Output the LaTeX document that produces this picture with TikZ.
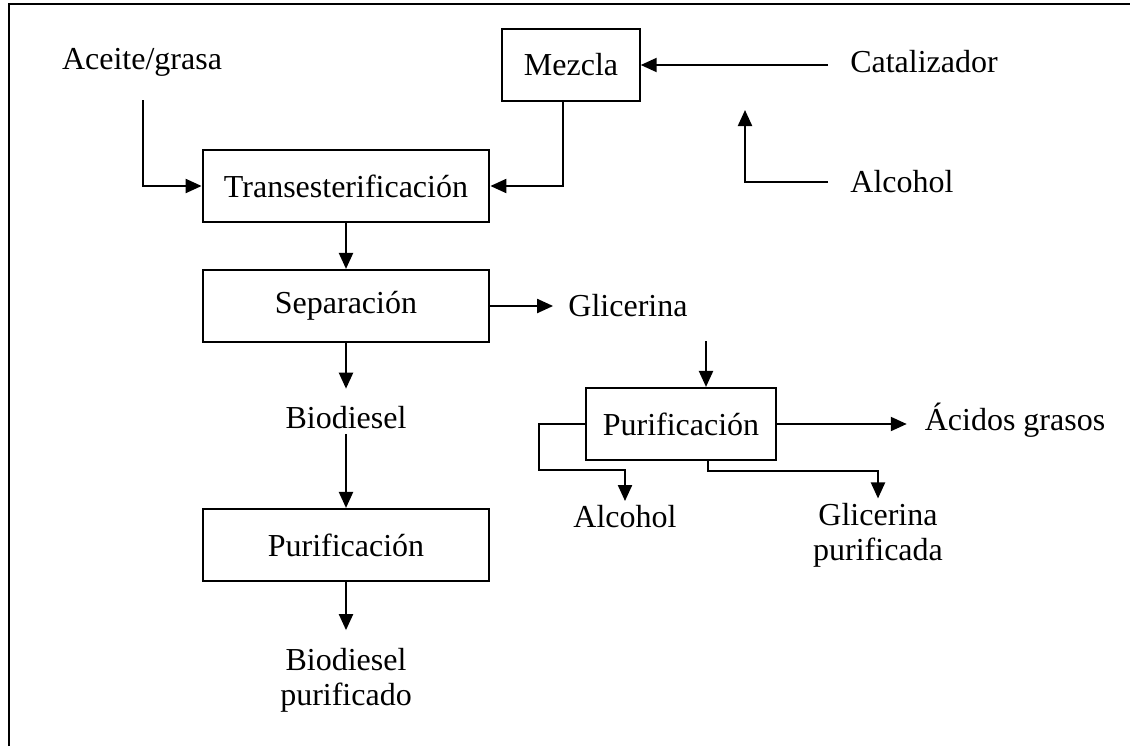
\documentclass[tikz,border=0pt]{standalone}
\usepackage{fontspec}
\setmainfont{Liberation Serif}
\usetikzlibrary{positioning}
\usetikzlibrary{arrows.meta}

\begin{document}
\begin{tikzpicture}[x=0.75pt, y=-0.75pt,
  every node/.style={font=\fontsize{24}{26}\selectfont},
  box/.style={draw, line width=1.6pt, minimum height=54pt, inner sep=0pt},
  flow/.style={line width=1.6pt, -{Triangle[length=12pt,width=10.5pt]}}]
  \useasboundingbox (0,0) rectangle (1130,746);
  \draw[line width=1.6pt] (9,746) -- (9,4) -- (1130,4);
  % boxes
  \node[box, minimum width=215pt] (trans) at (346,186) {Transesterificación};
  \node[box, minimum width=103pt] (mezcla) at (571,65) {Mezcla};
  \node[box, minimum width=215pt] (sep) at (346,306) {Separación};
  \node[box, minimum width=215pt] (purbio) at (346,545) {Purificación};
  \node[box, minimum width=143pt] (purgli) at (681,424) {Purificación};
  % streams
  \node (aceite) at (142,62) {Aceite/grasa};
  \node (catal) at (924,62) {Catalizador};
  \node (alcin) at (902,182) {Alcohol};
  \node (glic) at (628,306) {Glicerina};
  \node (biod) at (346,418) {Biodiesel};
  \node[align=center] (biopur) at (346,680) {Biodiesel\\purificado};
  \node (acidos) at (1015,420) {Ácidos grasos};
  \node (alcout) at (625,517) {Alcohol};
  \node[align=center] (glipur) at (878,535) {Glicerina\\purificada};
  % free ends
  \coordinate (a1) at (143,100);
  \coordinate (c1) at (828,65);
  \coordinate (c2) at (828,182);
  \coordinate (c3) at (745,110);
  \coordinate (g1) at (706,341);
  % connectors
  \draw[flow] (a1) |- (trans.west);
  \draw[flow] ([xshift=-6pt]mezcla.south) |- (trans.east);
  \draw[flow] (c1) -- (c1 -| mezcla.east);
  \draw[flow] (c2) -| (c3);
  \draw[flow] (trans) -- (sep);
  \draw[flow, shorten >=8pt] (sep.east) -- (glic.west);
  \draw[flow] (g1) -- (g1 |- purgli.north);
  \draw[flow, shorten >=10pt] (purgli.east) -- (purgli.east -| acidos.west);
  \draw[flow] (purgli.west) -- ++(-46,0) -- ++(0,46) -| (alcout.north);
  \draw[flow] ([xshift=20pt]purgli.south) -- ++(0,10) -| (glipur.north);
  \draw[flow, shorten >=10pt] (sep) -- (biod);
  \draw[flow] (biod) -- (purbio);
  \draw[flow, shorten >=10pt] (purbio) -- (biopur);
\end{tikzpicture}
\end{document}
